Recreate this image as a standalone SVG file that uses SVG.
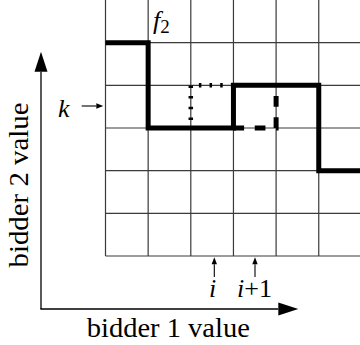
<svg xmlns="http://www.w3.org/2000/svg" width="360" height="345" viewBox="0 0 360 345">
  <style>
    .grid { stroke: #3a3a3a; stroke-width: 1.2; fill: none; }
    .thick { stroke: #000; stroke-width: 5; fill: none; stroke-linejoin: miter; }
    .dotted { stroke: #000; stroke-width: 4.5; fill: none; stroke-dasharray: 2.5 8.17; stroke-dashoffset: 2.6; }
    .dashed { stroke: #000; stroke-width: 5; fill: none; stroke-dasharray: 10.66 10.66; }
    .axis { stroke: #000; stroke-width: 1.3; fill: none; }
    .ptr { stroke: #000; stroke-width: 1.1; fill: none; }
    text { font-family: "Liberation Serif", "DejaVu Serif", serif; fill: #000; }
    .lbl { font-size: 27px; }
    .math { font-size: 26px; }
    .it { font-style: italic; }
  </style>
  <defs>
    <marker id="big" markerUnits="userSpaceOnUse" markerWidth="20" markerHeight="13" refX="0" refY="6.5" orient="auto" overflow="visible">
      <path d="M0,0 L20,6.5 L0,13 Z" fill="#000"/>
    </marker>
    <marker id="small" markerUnits="userSpaceOnUse" markerWidth="7" markerHeight="5.4" refX="0" refY="2.7" orient="auto" overflow="visible">
      <path d="M0,0 L7,2.7 L0,5.4 Z" fill="#000"/>
    </marker>
  </defs>

  <g id="grid">
    <path class="grid" d="M105.5,-1 V256 M148.15,-1 V256 M190.8,-1 V256 M233.45,-1 V256 M276.1,-1 V256 M318.75,-1 V256
      M105.5,42.67 H362 M105.5,85.33 H362 M105.5,128 H362 M105.5,170.67 H362 M105.5,213.33 H362 M105.5,256 H362"/>
  </g>

  <g id="curve">
    <path class="thick" d="M105.5,42.67 H148.15 V128 H233.45 V85.33 H318.75 V170.67 H362"/>
    <path class="dotted" d="M190.8,128 V85.33 H233.45"/>
    <path class="dashed" d="M233.45,128 H276.1 V85.33"/>
  </g>

  <g id="connectors">
    <line class="axis" x1="41" y1="309" x2="41" y2="71.7" marker-end="url(#big)"/>
    <line class="axis" x1="40.35" y1="309" x2="278.3" y2="309" marker-end="url(#big)"/>
    <line class="ptr" x1="81.7" y1="106" x2="96.3" y2="106" marker-end="url(#small)"/>
    <line class="ptr" x1="214.3" y1="277" x2="214.3" y2="264.3" marker-end="url(#small)"/>
    <line class="ptr" x1="255" y1="277" x2="255" y2="264.3" marker-end="url(#small)"/>
  </g>

  <g id="labels">
    <text class="math it" x="153" y="29">f<tspan font-style="normal" font-size="19" dy="4">2</tspan></text>
    <text class="math it" x="58" y="117">k</text>
    <text class="math it" x="209" y="297">i</text>
    <text class="math" x="237" y="297"><tspan class="it">i</tspan>+1</text>
    <text class="lbl" x="168.3" y="336.7" text-anchor="middle" textLength="163" lengthAdjust="spacingAndGlyphs">bidder 1 value</text>
    <text class="lbl" transform="translate(28.3,185) rotate(-90)" x="0" y="0" text-anchor="middle" textLength="165" lengthAdjust="spacingAndGlyphs">bidder 2 value</text>
  </g>
</svg>
